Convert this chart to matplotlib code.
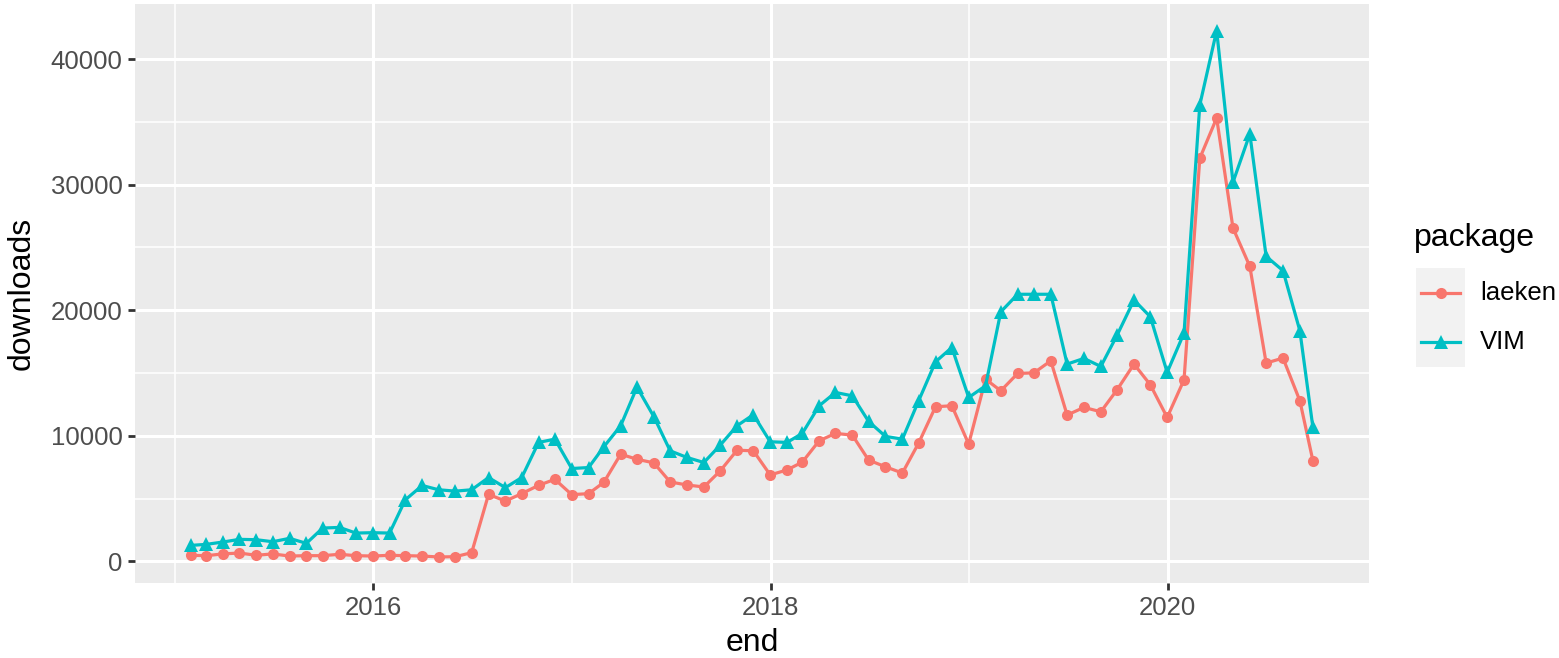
import numpy as np
import pandas as pd
import matplotlib
matplotlib.use("Agg")
import matplotlib.pyplot as plt
import matplotlib.dates as mdates
from matplotlib.patches import Rectangle
from matplotlib.lines import Line2D

plt.rcParams['font.family'] = ['Liberation Sans', 'DejaVu Sans']

# ---- data ----
end_dates = list(pd.date_range("2015-01-31", "2020-08-31", freq="ME")) + [pd.Timestamp("2020-09-24")]

laeken = [480, 450, 590, 660, 480, 590, 420, 450, 450, 560, 450, 420, 480, 450, 420, 345, 370, 690,
          5330, 4800, 5390, 6050, 6530, 5310, 5390, 6290, 8530, 8130, 7840, 6320, 6080, 5920, 7200,
          8850, 8800, 6880, 7280, 7900,
          9600, 10190, 10050, 8060, 7530, 7030, 9420, 12310, 12390, 9340, 14510, 13580, 14960, 15010, 15970,
          11650, 12260, 11910, 13670, 15710, 14060, 11460, 14460, 32100, 35310, 26550, 23490, 15790, 16190,
          12790, 8010]

vim = [1270, 1350, 1540, 1750, 1720, 1560, 1830, 1430, 2650, 2700, 2250, 2280, 2250, 4900, 6040, 5700, 5590, 5700,
       6670, 5870, 6670, 9470, 9730, 7390, 7470, 9120, 10800, 13870, 11520, 8800, 8270, 7870, 9250, 10800, 11680,
       9520, 9470,
       10190, 12390, 13450, 13180, 11140, 9950, 9730, 12790, 15890, 17030, 13050, 13980, 19870, 21270, 21270, 21270,
       15710, 16160, 15520, 18020, 20810, 19480, 15050, 18180, 36350, 42270, 30190, 34040, 24290, 23150, 18370, 10660]

packages = ["laeken", "VIM"]
colors = {"laeken": "#F8766D", "VIM": "#00BFC4"}
markers = {"laeken": "o", "VIM": "^"}
msizes = {"laeken": 8.0, "VIM": 9.5}
series = {"laeken": laeken, "VIM": vim}

year_major = [2016, 2018, 2020]
year_minor = [2015, 2017, 2019]
y_major = [0, 10000, 20000, 30000, 40000]
y_minor = [5000, 15000, 25000, 35000]

# ---- figure ----
W, H = 1559, 658
fig = plt.figure(figsize=(W / 100, H / 100), dpi=100)
fig.patch.set_facecolor("white")
ax = fig.add_axes([135 / W, 1 - 583.3 / H, (1369 - 135) / W, (583.3 - 4.3) / H])
ax.set_facecolor("#EBEBEB")
for s in ax.spines.values():
    s.set_visible(False)

for p in packages:
    ax.plot(end_dates, series[p], color=colors[p], lw=2.3, marker=markers[p],
            markersize=msizes[p], markeredgewidth=0, zorder=3)

# limits with 5% expansion (ggplot default)
xnum = mdates.date2num(end_dates)
xr = xnum.max() - xnum.min()
ax.set_xlim(xnum.min() - 0.05 * xr, xnum.max() + 0.05 * xr)
allv = laeken + vim
yr = max(allv) - min(allv)
ax.set_ylim(min(allv) - 0.05 * yr, max(allv) + 0.05 * yr)

ax.set_xticks([mdates.date2num(pd.Timestamp(f"{y}-01-01")) for y in year_major])
ax.set_xticklabels([str(y) for y in year_major])
ax.set_xticks([mdates.date2num(pd.Timestamp(f"{y}-01-01")) for y in year_minor], minor=True)
ax.set_yticks(y_major)
ax.set_yticklabels([str(v) for v in y_major])
ax.set_yticks(y_minor, minor=True)

ax.grid(which="major", color="white", lw=2.2, zorder=0)
ax.grid(which="minor", color="white", lw=1.1, zorder=0)
ax.set_axisbelow(True)

ax.tick_params(which="major", length=5, width=2.0, color="#333333",
               labelcolor="#4D4D4D", labelsize=18.5, pad=4)
ax.tick_params(which="minor", length=0)

ax.set_xlabel("end", fontsize=23, color="black", labelpad=6)
ax.set_ylabel("downloads", fontsize=23, color="black", labelpad=10)

# ---- legend (ggplot style) ----
def fx(px):
    return px / W

def fy(py):
    return 1 - py / H

fig.text(fx(1414), fy(238), "package", fontsize=23, va="center", ha="left", color="black")
key_x0, key_x1 = 1416, 1465
key_top = 268
key_h = 49.5
for i, p in enumerate(packages):
    y0 = key_top + i * key_h
    fig.add_artist(Rectangle((fx(key_x0), fy(y0 + key_h)), fx(key_x1 - key_x0), key_h / H,
                             transform=fig.transFigure, facecolor="#F2F2F2", edgecolor="none"))
    yc = fy(y0 + key_h / 2)
    fig.add_artist(Line2D([fx(key_x0 + 5), fx(key_x1 - 5)], [yc, yc], transform=fig.transFigure,
                          color=colors[p], lw=2.3))
    fig.add_artist(Line2D([fx((key_x0 + key_x1) / 2)], [yc], transform=fig.transFigure,
                          color=colors[p], marker=markers[p], markersize=msizes[p], markeredgewidth=0, lw=0))
    fig.text(fx(1480), yc, p, fontsize=18.5, va="center", ha="left", color="black")

fig.savefig("out.png", dpi=100)
